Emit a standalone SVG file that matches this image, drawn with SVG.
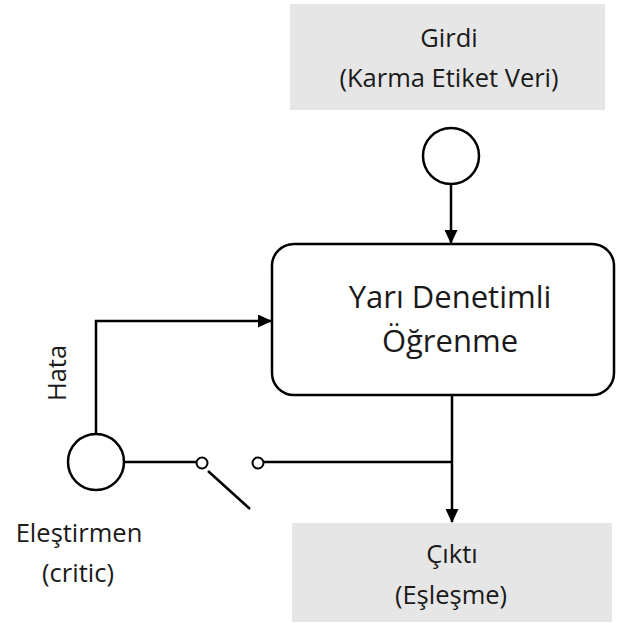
<svg xmlns="http://www.w3.org/2000/svg" width="617" height="623" viewBox="0 0 617 623">
  <style>
    text { font-family: "Open Sans", "Noto Sans", sans-serif; fill: #1a1a1a; }
    .lbl { font-size: 25.5px; text-anchor: middle; }
    .big { font-size: 31px; text-anchor: middle; }
    .box { fill: #e6e6e6; stroke: none; }
    .line { fill: none; stroke: #000; stroke-width: 2.5; }
    .ring { fill: #fff; stroke: #000; stroke-width: 2.5; }
  </style>
  <defs>
    <marker id="arrow" markerWidth="14" markerHeight="13" refX="13" refY="6.5" orient="auto" markerUnits="userSpaceOnUse" viewBox="0 0 14 13">
      <path d="M0,0 L14,6.5 L0,13 Z" fill="#000"/>
    </marker>
  </defs>
  <rect width="617" height="623" fill="#fff"/>

  <g id="connectors">
    <line class="line" x1="451" y1="185" x2="451" y2="243" marker-end="url(#arrow)"/>
    <polyline class="line" points="96,433 96,321 271,321" marker-end="url(#arrow)"/>
    <line class="line" x1="124" y1="462" x2="196" y2="462"/>
    <line class="line" x1="208" y1="471" x2="250" y2="509"/>
    <line class="line" x1="264" y1="462" x2="452" y2="462"/>
    <line class="line" x1="452" y1="396" x2="452" y2="522" marker-end="url(#arrow)"/>
  </g>

  <g id="input">
    <rect class="box" x="290" y="4" width="315" height="106"/>
    <text class="lbl" x="449" y="47">Girdi</text>
    <text class="lbl" x="449" y="87">(Karma Etiket Veri)</text>
  </g>

  <g id="input-node">
    <circle class="ring" cx="451" cy="156" r="28"/>
  </g>

  <g id="learner">
    <rect x="272" y="244" width="342" height="151" rx="22" fill="#fff" stroke="#000" stroke-width="2.5"/>
    <text class="big" x="450" y="308">Yarı Denetimli</text>
    <text class="big" x="450" y="352">Öğrenme</text>
  </g>

  <g id="critic">
    <circle class="ring" cx="96" cy="462" r="28"/>
    <text class="lbl" x="79" y="542">Eleştirmen</text>
    <text class="lbl" x="78" y="582">(critic)</text>
  </g>

  <g id="error-label">
    <text class="lbl" transform="translate(66,373) rotate(-90)">Hata</text>
  </g>

  <g id="switch">
    <circle cx="202" cy="463" r="5.5" fill="#fff" stroke="#000" stroke-width="2"/>
    <circle cx="258" cy="463" r="5.5" fill="#fff" stroke="#000" stroke-width="2"/>
  </g>

  <g id="output">
    <rect class="box" x="292" y="523" width="320" height="99"/>
    <text class="lbl" x="452" y="563">Çıktı</text>
    <text class="lbl" x="451" y="604">(Eşleşme)</text>
  </g>
</svg>
